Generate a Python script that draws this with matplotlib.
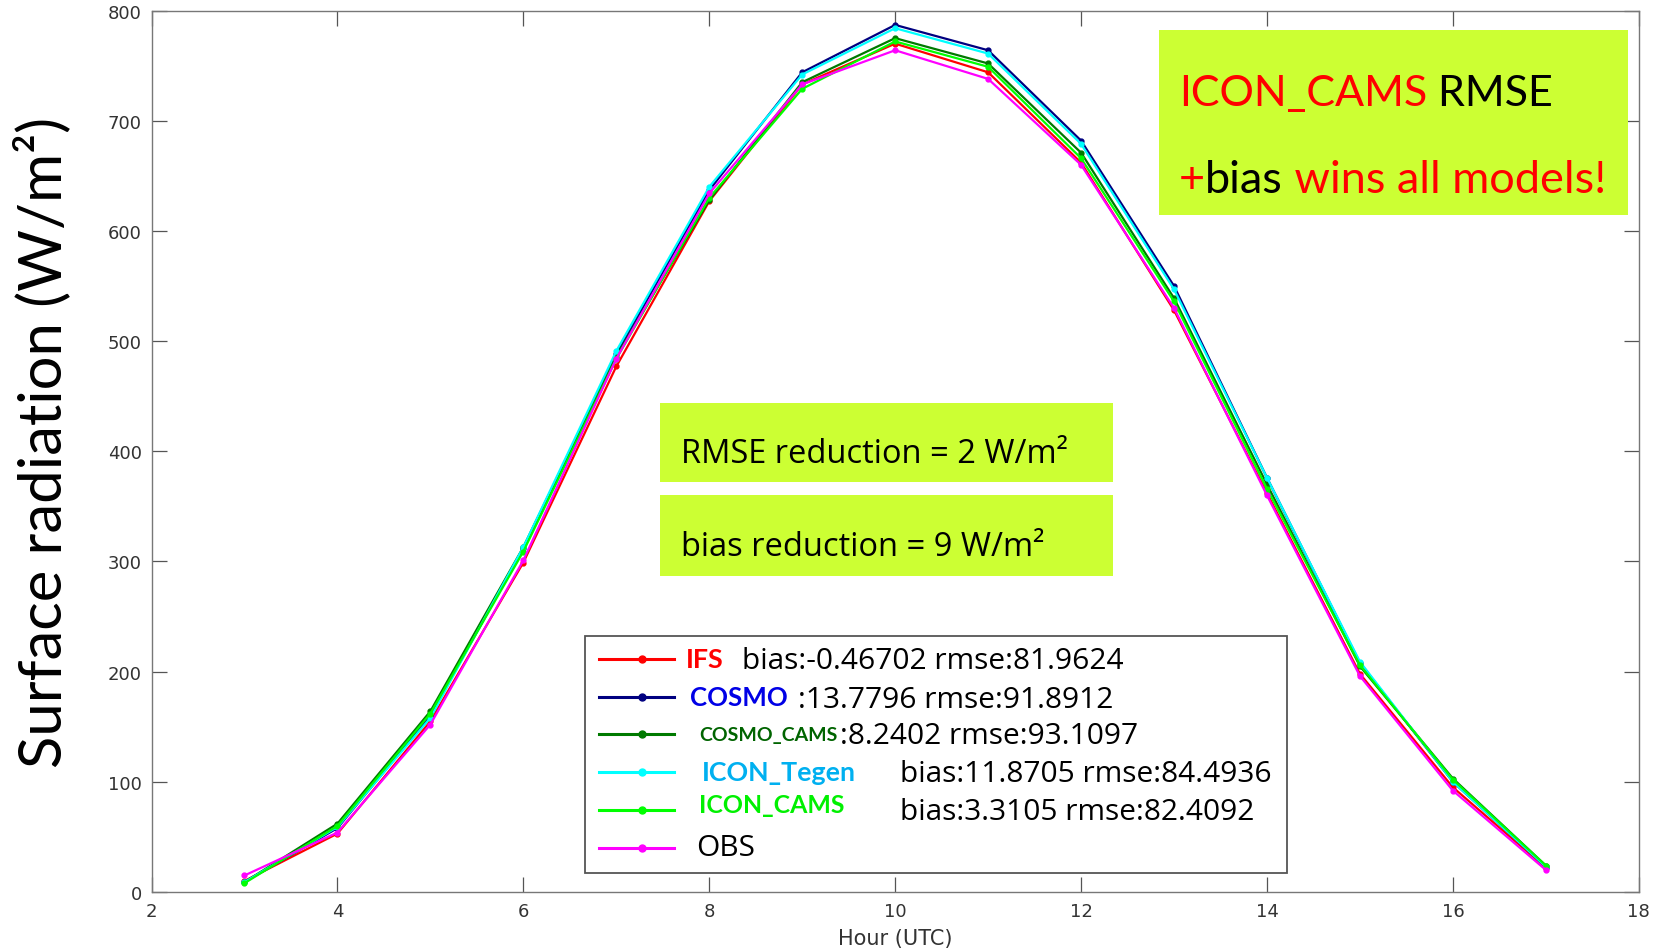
import matplotlib
matplotlib.use('Agg')
import matplotlib.pyplot as plt
from matplotlib.patches import Rectangle
from matplotlib.lines import Line2D
from matplotlib.text import Annotation

# hourly mean surface radiation (W/m2)
hours = [3, 4, 5, 6, 7, 8, 9, 10, 11, 12, 13, 14, 15, 16, 17]
ifs = [10, 53, 155, 299, 477, 627, 733, 770, 744, 662, 528, 362, 198, 95, 22]
cosmo = [9, 58, 160, 312, 488, 637, 744, 787, 764, 682, 550, 376, 208, 100, 23]
cosmo_cams = [9, 62, 164, 313, 486, 628, 735, 775, 752, 671, 539, 370, 205, 103, 24]
icon_tegen = [9, 59, 158, 313, 491, 640, 742, 784, 761, 679, 547, 376, 209, 100, 23]
icon_cams = [8, 60, 162, 309, 484, 630, 729, 772, 749, 666, 536, 366, 206, 102, 24]
obs = [15, 54, 152, 301, 484, 634, 733, 764, 738, 660, 530, 360, 196, 92, 20]

series_names = ['IFS', 'COSMO', 'COSMO_CAMS', 'ICON_Tegen', 'ICON_CAMS', 'OBS']
series_vals = [ifs, cosmo, cosmo_cams, icon_tegen, icon_cams, obs]
line_colors = ['#ff0000', '#000080', '#007a00', '#00ffff', '#00ff00', '#ff00ff']
name_colors = ['#ff0000', '#0000e6', '#006400', '#00b0f0', '#00f000', '#000000']
stats = ['bias:-0.46702 rmse:81.9624', ':13.7796 rmse:91.8912', ':8.2402 rmse:93.1097',
         'bias:11.8705 rmse:84.4936', 'bias:3.3105 rmse:82.4092', '']

W, H = 1661, 953
BOX = '#ccff33'


def px(x, y):
    # pixel position -> figure fraction
    return x / W, 1 - y / H


fig = plt.figure(figsize=(W / 100, H / 100), dpi=100)
ax = fig.add_axes([151.5 / W, 1 - 893 / H, 1487.3 / W, 881.4 / H])

lines = []
for name, vals, c in zip(series_names, series_vals, line_colors):
    ln, = ax.plot(hours, vals, color=c, lw=1.6, marker='o', markersize=3.5, label=name)
    lines.append(ln)

ax.set_xlim(2, 18)
ax.set_ylim(0, 800)
ax.set_xticks(range(2, 19, 2))
ax.set_yticks(range(0, 801, 100))
ax.tick_params(direction='in', length=10.5, width=0.9, color='#555555', labelcolor='#333333',
               labelsize=13, top=True, right=True, pad=7)
for s in ax.spines.values():
    s.set_color('#777777')
    s.set_linewidth(1.0)
ax.set_xlabel('Hour (UTC)', fontsize=15, color='#333333', labelpad=6)

fig.text(*px(42, 442), 'Surface radiation (W/m²)', rotation=90, ha='center', va='center',
         fontsize=43, family='Lato', color='black')

# legend drawn by hand (two colours per row)
lx0, ly0 = px(584.7, 874)
lx1, ly1 = px(1287, 636.6)
fig.add_artist(Rectangle((lx0, ly0), lx1 - lx0, ly1 - ly0, transform=fig.transFigure,
                         facecolor='white', edgecolor='#555555', lw=1.3, zorder=5))
row_y = [660, 698, 735, 773, 811, 849]
name_y = [660, 698, 735, 773, 806, 849]
name_x = [686, 690, 699, 702, 699, 696]
name_size = [19.4, 18.6, 14, 19.3, 17.9, 21.5]
stat_x = [741.5, 797.6, 840, 900.4, 900.4, 0]
for i, ln in enumerate(lines):
    xa, ya = px(598.5, row_y[i])
    xb, _ = px(673.7, row_y[i])
    xm, _ = px(642, row_y[i])
    fig.add_artist(Line2D([xa, xb], [ya, ya], transform=fig.transFigure,
                          color=ln.get_color(), lw=2.2, zorder=6))
    fig.add_artist(Line2D([xm], [ya], transform=fig.transFigure, color=ln.get_color(),
                          marker='o', markersize=5, zorder=6))
    bold = series_names[i] != 'OBS'
    fig.text(*px(name_x[i], name_y[i]), series_names[i], color=name_colors[i],
             fontsize=name_size[i], family='Lato' if bold else 'Open Sans',
             weight='bold' if bold else 'normal', va='center', zorder=7)
    if stats[i]:
        fig.text(*px(stat_x[i], row_y[i] + 2), stats[i], color='black', fontsize=21.5,
                 family='Open Sans', va='center', zorder=7)


def colored_text(x, y, parts, size):
    t = fig.text(*px(x, y), parts[0][0], color=parts[0][1], fontsize=size,
                 family='Lato', va='baseline', zorder=8)
    for s, c in parts[1:]:
        t = fig.add_artist(Annotation(s, xy=(1, 0), xycoords=t, va='bottom', ha='left',
                                      color=c, fontsize=size, family='Lato', zorder=8))


# highlighted boxes
for (x0, y0, x1, y1) in [(1159, 31, 1628, 216), (660, 404, 1113, 483.3), (660, 496, 1113, 576.7)]:
    a, b = px(x0, y1)
    c, d = px(x1, y0)
    fig.add_artist(Rectangle((a, b), c - a, d - b, transform=fig.transFigure,
                             facecolor=BOX, edgecolor='none', zorder=4))

colored_text(1179, 106, [('ICON_CAMS', '#ff0000'), (' RMSE', 'black')], 31)
colored_text(1179, 192.7, [('+', '#ff0000'), ('bias', 'black'), (' wins all models!', '#ff0000')], 32.5)
fig.text(*px(680.7, 463.3), 'RMSE reduction = 2 W/m²', fontsize=23.5, family='Open Sans',
         va='baseline', zorder=8)
fig.text(*px(680.7, 556), 'bias reduction = 9 W/m²', fontsize=23.5, family='Open Sans',
         va='baseline', zorder=8)

fig.savefig('out.png', dpi=100)
